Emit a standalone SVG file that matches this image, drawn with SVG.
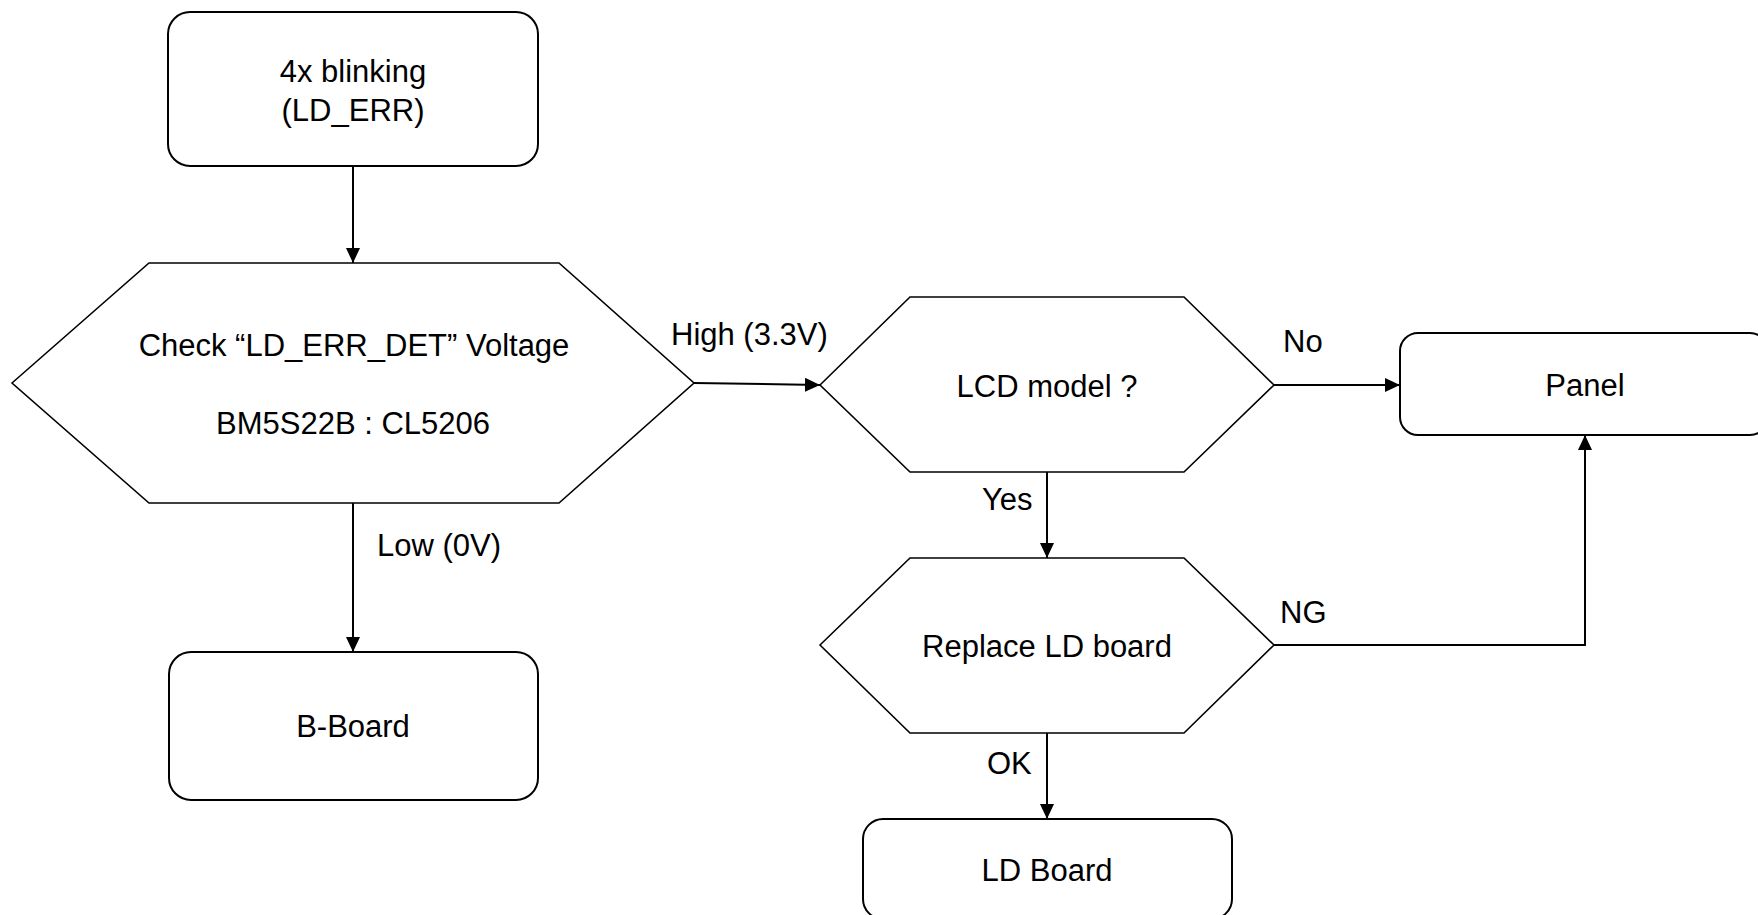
<svg xmlns="http://www.w3.org/2000/svg" width="1758" height="915" viewBox="0 0 1758 915">
<style>
  .box { fill: #ffffff; stroke: #000000; stroke-width: 2; }
  .hex { fill: #ffffff; stroke: #000000; stroke-width: 1.6; }
  .t { font-family: "Liberation Sans", Arial, sans-serif; font-size: 31px; fill: #000000; }
  .c { text-anchor: middle; }
  .conn { fill: none; stroke: #000000; stroke-width: 2; }
</style>
<defs>
  <marker id="arrow" markerUnits="userSpaceOnUse" markerWidth="16" markerHeight="14" refX="15" refY="7" orient="auto">
    <path d="M0,0 L15,7 L0,14 Z" fill="#000000"/>
  </marker>
</defs>
<rect width="1758" height="915" fill="#ffffff"/>

<g id="connectors">
  <path class="conn" d="M353,166 L353,263" marker-end="url(#arrow)"/>
  <path class="conn" d="M353,503 L353,652" marker-end="url(#arrow)"/>
  <path class="conn" d="M694,383 L820,385" marker-end="url(#arrow)"/>
  <path class="conn" d="M1274,385 L1400,385" marker-end="url(#arrow)"/>
  <path class="conn" d="M1047,472 L1047,558" marker-end="url(#arrow)"/>
  <path class="conn" d="M1274,645 L1585,645 L1585,435" marker-end="url(#arrow)"/>
  <path class="conn" d="M1047,733 L1047,819" marker-end="url(#arrow)"/>
  <text class="t" x="671" y="345">High (3.3V)</text>
  <text class="t" x="377" y="556">Low (0V)</text>
  <text class="t" x="1283" y="352">No</text>
  <text class="t" x="982" y="510">Yes</text>
  <text class="t" x="1280" y="623">NG</text>
  <text class="t" x="987" y="774">OK</text>
</g>

<g id="start">
  <rect class="box" x="168" y="12" width="370" height="154" rx="22" ry="22"/>
  <text class="t c" x="353" y="82">4x blinking</text>
  <text class="t c" x="353" y="121">(LD_ERR)</text>
</g>

<g id="check">
  <polygon class="hex" points="12,383 149,263 559,263 694,383 559,503 149,503"/>
  <text class="t c" x="354" y="318" dy="38">Check “LD_ERR_DET” Voltage</text>
  <text class="t c" x="353" y="434">BM5S22B : CL5206</text>
</g>

<g id="bboard">
  <rect class="box" x="169" y="652" width="369" height="148" rx="22" ry="22"/>
  <text class="t c" x="353" y="737">B-Board</text>
</g>

<g id="lcd">
  <polygon class="hex" points="820,385 910,297 1184,297 1274,385 1184,472 910,472"/>
  <text class="t c" x="1047" y="397">LCD model ?</text>
</g>

<g id="panel">
  <rect class="box" x="1400" y="333" width="368" height="102" rx="18" ry="18"/>
  <text class="t c" x="1585" y="396">Panel</text>
</g>

<g id="replace">
  <polygon class="hex" points="820,645 910,558 1184,558 1274,645 1184,733 910,733"/>
  <text class="t c" x="1047" y="657">Replace LD board</text>
</g>

<g id="ldboard">
  <rect class="box" x="863" y="819" width="369" height="100" rx="20" ry="20"/>
  <text class="t c" x="1047" y="881">LD Board</text>
</g>
</svg>
